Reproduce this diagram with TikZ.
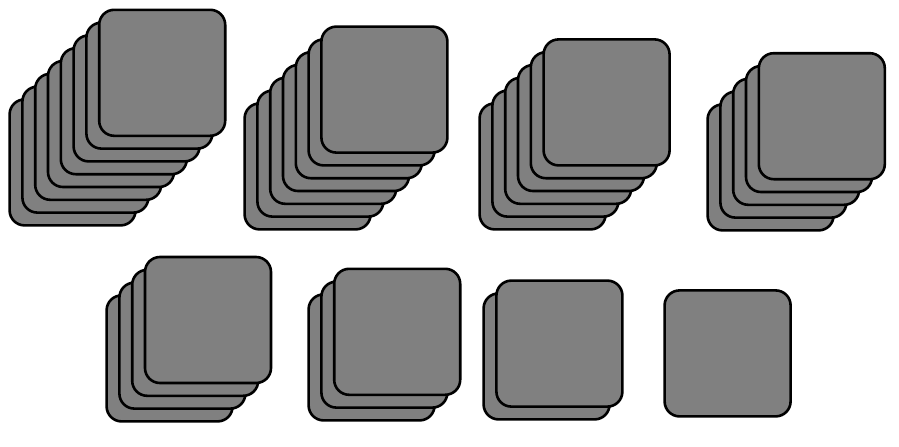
\documentclass[tikz,border=0pt]{standalone}

\begin{document}
\begin{tikzpicture}[x=0.5pt, y=0.5pt,
    card/.style={draw, fill=gray, line width=1.3pt, rounded corners=7.5pt,
      minimum size=63pt, inner sep=0pt, anchor=south west}]
    \useasboundingbox (0,0) rectangle (899,446);

    % stacks: lower left corner of the last card (px from top left), number of cards
    \foreach \sx/\sy/\n [count=\s] in {7/228/8, 242/232/7, 477/232/6, 705/233/5,
        104/424/4, 306/423/3, 481/422/2, 662/419/1} {
        \foreach \k in {1,...,\n}
            \node[card] (stack\s-\k) at ({\sx+1.3+(\k-1)*12.8}, {446-\sy+1.3+(\k-1)*12.8}) {};
    }
\end{tikzpicture}
\end{document}
